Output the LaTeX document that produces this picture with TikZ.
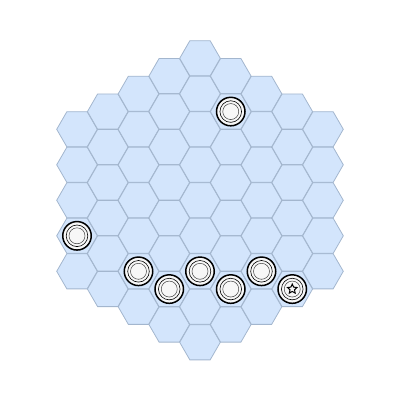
\documentclass[tikz,border=0pt]{standalone}
\usetikzlibrary{shapes.geometric}
\definecolor{cellfill}{HTML}{D3E5FC}
\definecolor{celledge}{HTML}{A3B6CE}
\definecolor{piecefill}{HTML}{F7F7F7}
\tikzset{
  hexcell/.style={regular polygon, regular polygon sides=6, minimum size=40.6pt,
    inner sep=0pt, outer sep=0pt, fill=cellfill, draw=celledge, line width=0.8pt},
  piece/.style={circle, minimum size=28.5pt, inner sep=0pt, fill=piecefill, draw=black, line width=1.5pt},
  ringa/.style={draw=black, line width=0.6pt},
  ringb/.style={draw=black!75, line width=0.5pt},
  starmark/.style={star, star points=5, star point ratio=2.1, minimum size=10pt, inner sep=0pt, draw=black, line width=1pt}
}
\begin{document}
\begin{tikzpicture}[x=1pt,y=-1pt]
\useasboundingbox (0,0) rectangle (402,402);
\foreach \c in {-4,...,4}{
  \pgfmathtruncatemacro\n{8-abs(\c)}
  \foreach \k in {0,...,\n}{
    \pgfmathsetmacro\xx{200+\c*30.75}
    \pgfmathsetmacro\yy{200.3+(\k-\n/2)*35.5}
    \node[hexcell] (h\c-\k) at (\xx,\yy) {};
  }
}
\foreach \c/\k/\nm in {1/1/p1,-4/3/p2,-2/5/p3,-1/6/p4,0/6/p5,1/6/p6,2/5/p7,3/5/p8}{
  \node[piece] (\nm) at (h\c-\k.center) {};
  \draw[ringa] (\nm.center) circle (10.8pt);
  \draw[ringb] (\nm.center) circle (8pt);
}
\node[starmark] (st) at (p8.center) {};
\end{tikzpicture}
\end{document}
